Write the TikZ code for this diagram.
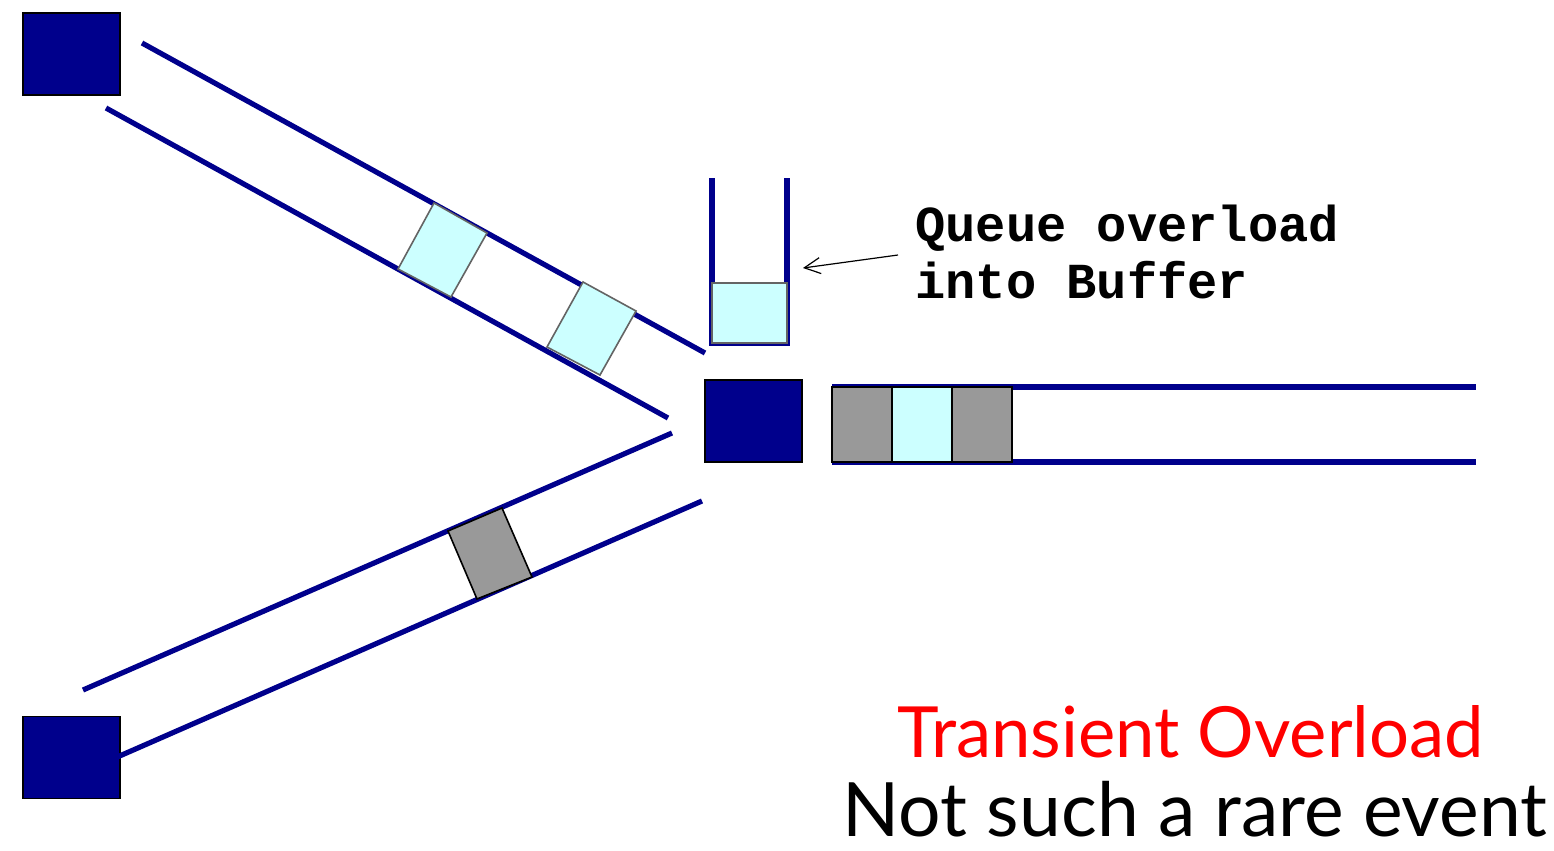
\documentclass[tikz,border=0pt]{standalone}
\usepackage{fontspec}
\usetikzlibrary{arrows.meta}
\newfontfamily\codefont{Liberation Mono}
\newfontfamily\gillfont{Lato}
\definecolor{navy}{RGB}{0,0,140}
\definecolor{pktcyan}{RGB}{204,255,255}
\definecolor{pktgray}{RGB}{153,153,153}
\definecolor{edgegray}{RGB}{100,100,100}
\begin{document}
\begin{tikzpicture}[x=0.5pt,y=-0.5pt,
  hostbox/.style={draw=black,line width=0.8pt,fill=navy,inner sep=0pt,minimum width=48.5pt,minimum height=41pt},
  chan/.style={draw=navy,line width=2.6pt},
  cyanpkt/.style={draw=edgegray,line width=0.8pt,fill=pktcyan},
  cyanpktb/.style={draw=black,line width=0.8pt,fill=pktcyan},
  graypkt/.style={draw=black,line width=0.8pt,fill=pktgray},
  pointer/.style={draw=black,line width=0.6pt,-{Straight Barb[length=8pt,width=8pt]}},
  bigtext/.style={inner sep=0pt,anchor=base}]
\useasboundingbox (0,0) rectangle (1554,851);
\fill[white] (0,0) rectangle (1554,851);
% hosts and router
\node[hostbox] (srcA) at (71.5,54) {};
\node[hostbox] (srcB) at (71.5,757.5) {};
\node[hostbox] (router) at (753.5,421) {};
% upper incoming link
\coordinate (ua1) at (142,43);
\coordinate (ua2) at (705,353);
\coordinate (ub1) at (106,108);
\coordinate (ub2) at (668,418);
\draw[chan] (ua1) -- (ua2);
\draw[chan] (ub1) -- (ub2);
\draw[cyanpkt] (434,203) -- (487,233) -- (451,297) -- (398,269) -- cycle;
\draw[cyanpkt] (583,282) -- (636,311) -- (600,375) -- (547,347) -- cycle;
% lower incoming link
\coordinate (la1) at (83,690);
\coordinate (la2) at (672,433);
\coordinate (lb1) at (115,758);
\coordinate (lb2) at (702,501);
\draw[chan] (la1) -- (la2);
\draw[chan] (lb1) -- (lb2);
\draw[graypkt] (448,531) -- (502,508) -- (532,577) -- (477,599) -- cycle;
% buffer
\coordinate (bufL) at (712,178);
\coordinate (bufR) at (787,178);
\draw[chan] (bufL) -- (712,343) -- (787,343) -- (bufR);
\draw[cyanpkt] (712,283) rectangle (787,343);
% outgoing link
\coordinate (oa1) at (832,387);
\coordinate (oa2) at (1476,387);
\coordinate (ob1) at (832,462);
\coordinate (ob2) at (1476,462);
\draw[chan] (oa1) -- (oa2);
\draw[chan] (ob1) -- (ob2);
\draw[graypkt] (832,387) rectangle (892,462);
\draw[cyanpktb] (892,387) rectangle (952,462);
\draw[graypkt] (952,387) rectangle (1012,462);
% annotation
\node[inner sep=0pt,anchor=base west,align=left,font=\codefont\bfseries\fontsize{25.2}{28.5}\selectfont] (note) at (915,298) {Queue overload\\into Buffer};
\coordinate (notetail) at (898,255);
\coordinate (buftip) at (803,268);
\draw[pointer] (notetail) -- (buftip);
% caption
\node[bigtext,text=red,font=\gillfont\fontsize{35.3}{38}\selectfont] (cap1) at (1190.5,757) {Transient Overload};
\node[bigtext,text=black,font=\gillfont\fontsize{37.5}{40}\selectfont] (cap2) at (1195,836.5) {Not such a rare event};
\end{tikzpicture}
\end{document}
